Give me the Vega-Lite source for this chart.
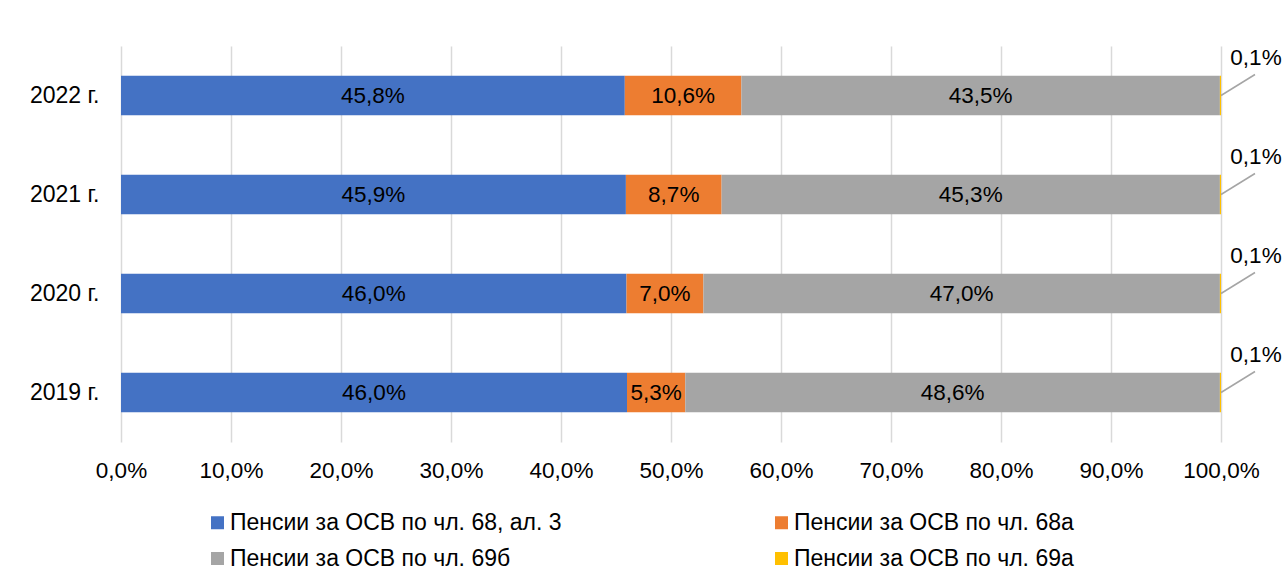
{
  "$schema": "https://vega.github.io/schema/vega-lite/v6.json",
  "width": 1100,
  "height": 396,
  "autosize": "none",
  "padding": {"left": 121, "top": 46, "right": 63, "bottom": 146},
  "background": "white",
  "config": {
    "font": "Liberation Sans",
    "view": {"stroke": null},
    "locale": {"number": {"decimal": ",", "thousands": " ", "grouping": [3], "currency": ["", ""]}}
  },
  "data": {
    "values": [
      {"year": "2022 г.", "category": "Пенсии за ОСВ по чл. 68, ал. 3", "value": 0.458},
      {"year": "2022 г.", "category": "Пенсии за ОСВ по чл. 68а", "value": 0.106},
      {"year": "2022 г.", "category": "Пенсии за ОСВ по чл. 69б", "value": 0.435},
      {"year": "2022 г.", "category": "Пенсии за ОСВ по чл. 69а", "value": 0.001},
      {"year": "2021 г.", "category": "Пенсии за ОСВ по чл. 68, ал. 3", "value": 0.459},
      {"year": "2021 г.", "category": "Пенсии за ОСВ по чл. 68а", "value": 0.087},
      {"year": "2021 г.", "category": "Пенсии за ОСВ по чл. 69б", "value": 0.453},
      {"year": "2021 г.", "category": "Пенсии за ОСВ по чл. 69а", "value": 0.001},
      {"year": "2020 г.", "category": "Пенсии за ОСВ по чл. 68, ал. 3", "value": 0.46},
      {"year": "2020 г.", "category": "Пенсии за ОСВ по чл. 68а", "value": 0.07},
      {"year": "2020 г.", "category": "Пенсии за ОСВ по чл. 69б", "value": 0.47},
      {"year": "2020 г.", "category": "Пенсии за ОСВ по чл. 69а", "value": 0.001},
      {"year": "2019 г.", "category": "Пенсии за ОСВ по чл. 68, ал. 3", "value": 0.46},
      {"year": "2019 г.", "category": "Пенсии за ОСВ по чл. 68а", "value": 0.053},
      {"year": "2019 г.", "category": "Пенсии за ОСВ по чл. 69б", "value": 0.486},
      {"year": "2019 г.", "category": "Пенсии за ОСВ по чл. 69а", "value": 0.001}
    ]
  },
  "transform": [
    {"calculate": "indexof(['Пенсии за ОСВ по чл. 68, ал. 3','Пенсии за ОСВ по чл. 68а','Пенсии за ОСВ по чл. 69б','Пенсии за ОСВ по чл. 69а'], datum.category)", "as": "ord"},
    {"stack": "value", "groupby": ["year"], "sort": [{"field": "ord", "order": "ascending"}], "offset": "normalize", "as": ["v0", "v1"]},
    {"calculate": "(datum.v0 + datum.v1) / 2", "as": "mid"}
  ],
  "encoding": {
    "y": {
      "field": "year",
      "type": "nominal",
      "sort": ["2022 г.", "2021 г.", "2020 г.", "2019 г."],
      "scale": {"paddingInner": 0.6, "paddingOuter": 0.3},
      "axis": {"title": null, "ticks": false, "domain": false, "labelFontSize": 23, "labelColor": "#000000", "labelPadding": 22}
    }
  },
  "layer": [
    {
      "mark": {"type": "bar"},
      "encoding": {
        "x": {
          "field": "v0",
          "type": "quantitative",
          "scale": {"domain": [0, 1], "nice": false},
          "axis": {
            "title": null,
            "values": [0, 0.1, 0.2, 0.3, 0.4, 0.5, 0.6, 0.7, 0.8, 0.9, 1],
            "format": ".1%",
            "domain": false,
            "ticks": false,
            "grid": true,
            "gridColor": "#D9D9D9",
            "gridWidth": 1.5,
            "labelFontSize": 22.5,
            "labelColor": "#000000",
            "labelPadding": 17,
            "labelFlush": false,
            "labelOverlap": false
          }
        },
        "x2": {"field": "v1"},
        "color": {
          "field": "category",
          "type": "nominal",
          "scale": {
            "domain": ["Пенсии за ОСВ по чл. 68, ал. 3", "Пенсии за ОСВ по чл. 68а", "Пенсии за ОСВ по чл. 69б", "Пенсии за ОСВ по чл. 69а"],
            "range": ["#4472C4", "#ED7D31", "#A5A5A5", "#FFC000"]
          },
          "legend": {
            "title": null,
            "orient": "none",
            "direction": "horizontal",
            "legendX": 85,
            "legendY": 465,
            "columns": 2,
            "columnPadding": 208,
            "rowPadding": 12,
            "padding": 0,
            "symbolType": "square",
            "symbolSize": 169,
            "symbolStrokeWidth": 0,
            "labelFontSize": 23,
            "labelColor": "#000000",
            "labelOffset": 1,
            "labelLimit": 500
          }
        }
      }
    },
    {
      "transform": [{"filter": "datum.ord < 3"}],
      "mark": {"type": "text", "fontSize": 22.5, "color": "#000000", "baseline": "middle", "align": "center"},
      "encoding": {
        "x": {"field": "mid", "type": "quantitative"},
        "text": {"field": "value", "type": "quantitative", "format": ".1%"}
      }
    },
    {
      "transform": [{"filter": "datum.ord == 3"}],
      "mark": {"type": "rule", "color": "#A5A5A5", "strokeWidth": 1.5, "x2Offset": 34, "y2Offset": -21},
      "encoding": {
        "x": {"field": "v1", "type": "quantitative"},
        "x2": {"field": "v1"},
        "y2": {"field": "year"}
      }
    },
    {
      "transform": [{"filter": "datum.ord == 3"}],
      "mark": {"type": "text", "fontSize": 22.5, "color": "#000000", "baseline": "middle", "align": "center", "dx": 35, "dy": -38},
      "encoding": {
        "x": {"field": "v1", "type": "quantitative"},
        "text": {"field": "value", "type": "quantitative", "format": ".1%"}
      }
    }
  ]
}
